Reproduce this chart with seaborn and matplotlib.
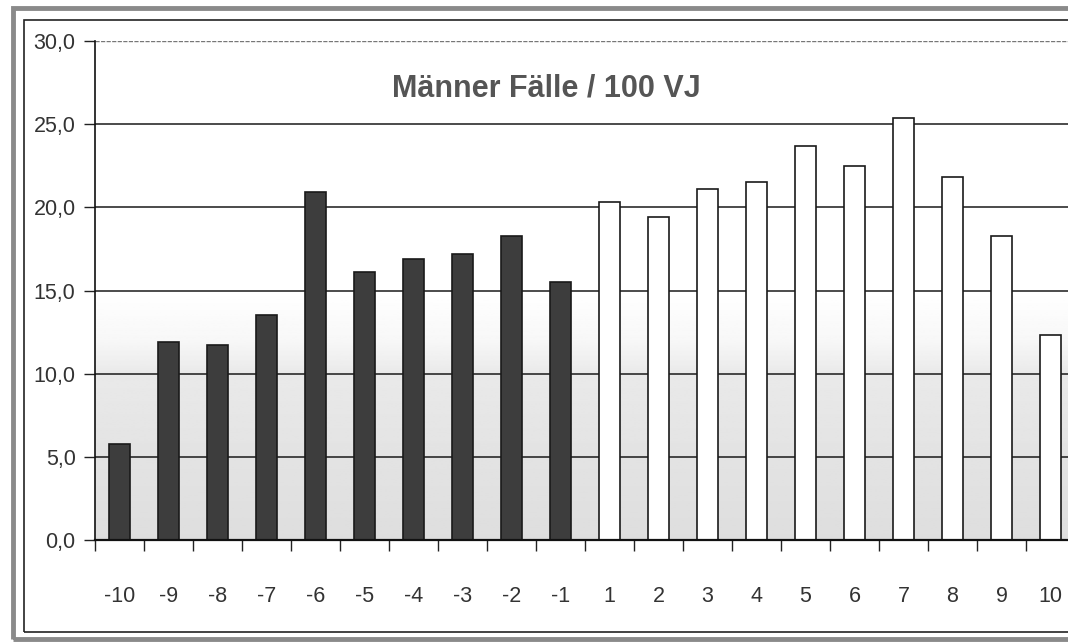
import numpy as np
import pandas as pd
import matplotlib
matplotlib.use("Agg")
import matplotlib.pyplot as plt
from matplotlib.patches import Rectangle
import seaborn as sns

# Daten: Jahre vor (-10..-1) und nach (1..10), Fälle pro 100 VJ (Männer)
jahre = ["-10", "-9", "-8", "-7", "-6", "-5", "-4", "-3", "-2", "-1",
         "1", "2", "3", "4", "5", "6", "7", "8", "9", "10"]
faelle = [5.8, 11.9, 11.7, 13.5, 20.9, 16.1, 16.9, 17.2, 18.3, 15.5,
          20.3, 19.4, 21.1, 21.5, 23.7, 22.5, 25.4, 21.8, 18.3, 12.3]
gruppe = ["vor"] * 10 + ["nach"] * 10
titel = "Männer Fälle / 100 VJ"
y_ticks = [0, 5, 10, 15, 20, 25, 30]

df = pd.DataFrame({"jahr": jahre, "faelle": faelle, "gruppe": gruppe})

sns.set_style("white")
plt.rcParams["font.family"] = ["Liberation Sans", "DejaVu Sans"]

fig = plt.figure(figsize=(10.68, 6.42), dpi=100)
W, H = 1068, 642

# Rahmen um die Grafik
fig.patches.append(Rectangle((13 / W, 3 / H), 1.2, 631 / H, transform=fig.transFigure,
                             fill=False, edgecolor="#8a8a8a", lw=3.5, zorder=0))
fig.patches.append(Rectangle((24 / W, 10 / H), 1.2, 612 / H, transform=fig.transFigure,
                             fill=False, edgecolor="#222222", lw=1.2, zorder=0))

ax = fig.add_axes([95 / W, (H - 540) / H, 980 / W, 499 / H])

# Hintergrundverlauf (unten grau, oben weiß)
yy = np.linspace(0, 30, 300)
shade = np.interp(yy, [0, 5, 10, 12, 15, 30], [0.87, 0.89, 0.915, 0.97, 1.0, 1.0])
grad = np.repeat(shade[:, None], 2, axis=1)
ax.imshow(grad, extent=(-0.5, 19.5, 0, 30), origin="lower", aspect="auto",
          cmap="gray", vmin=0, vmax=1, zorder=0)

# Gitterlinien
for t in y_ticks[1:-1]:
    ax.axhline(t, color="#1a1a1a", lw=1.1, zorder=1)
ax.axhline(30, color="#777777", lw=1.0, ls=(0, (3, 1)), zorder=1)

sns.barplot(data=df, x="jahr", y="faelle", hue="gruppe", order=jahre,
            palette={"vor": "#3d3d3d", "nach": "white"}, dodge=False,
            width=0.43, edgecolor="#1a1a1a", linewidth=1.2, legend=False,
            zorder=2, ax=ax)

ax.set_xlim(-0.5, 19.5)
ax.set_ylim(0, 30)
ax.set_xlabel("")
ax.set_ylabel("")

ax.set_yticks(y_ticks)
ax.set_yticklabels([f"{v:.1f}".replace(".", ",") for v in y_ticks],
                   fontsize=15.5, color="#333333")
ax.tick_params(axis="y", which="major", length=8, width=1, color="#222222",
               left=True, pad=6)

ax.set_xticks(range(len(jahre)))
ax.set_xticklabels(jahre, fontsize=15.5, color="#333333")
ax.set_xticks(np.arange(-0.5, 20, 1), minor=True)
ax.tick_params(axis="x", which="major", length=0, pad=33)
ax.tick_params(axis="x", which="minor", length=8, width=1, color="#222222",
               bottom=True)

for side in ["top", "right"]:
    ax.spines[side].set_visible(False)
ax.spines["left"].set_color("#111111")
ax.spines["left"].set_linewidth(1.2)
ax.spines["bottom"].set_color("#111111")
ax.spines["bottom"].set_linewidth(1.6)
ax.spines["bottom"].set_zorder(3)

ax.text(0.461, 0.905, titel, transform=ax.transAxes, ha="center", va="center",
        fontsize=22, fontweight="bold", color="#555555")

fig.savefig("out.png", dpi=100)
